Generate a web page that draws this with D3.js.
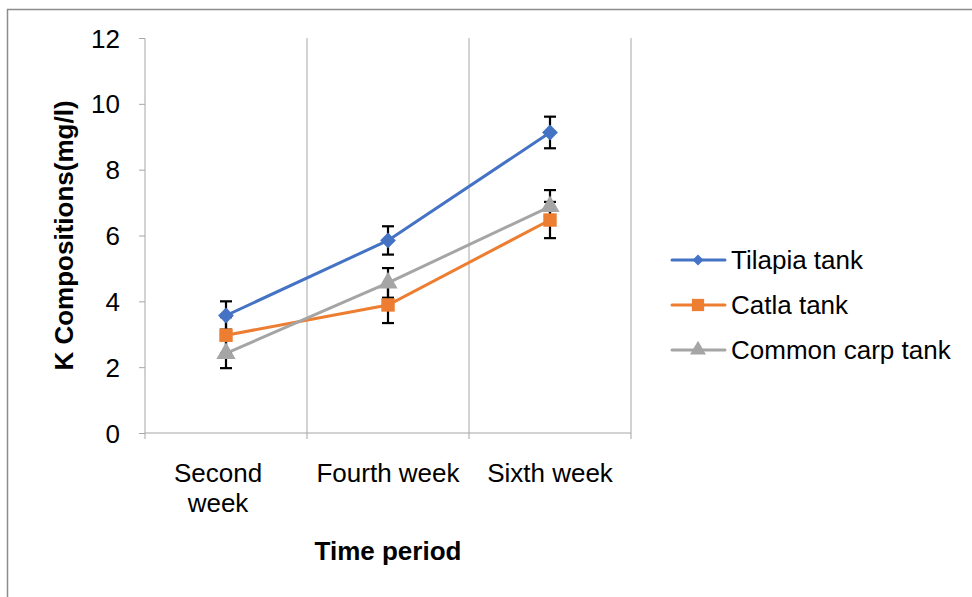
<!DOCTYPE html>
<html><head><meta charset="utf-8">
<script src="https://cdn.jsdelivr.net/npm/d3@7"></script>
<style>body{margin:0;background:#fff}svg{display:block}text{font-family:"Liberation Sans",Arial,sans-serif}</style>
</head><body>
<svg id="c" width="972" height="597"></svg>
<script>
const categories = [["Second","week"],["Fourth week"],["Sixth week"]];
const seriesNames = ["Tilapia tank","Catla tank","Common carp tank"];
const tilapia = [3.57, 5.85, 9.13];
const catla = [2.97, 3.89, 6.47];
const carp = [2.42, 4.56, 6.88];
const tilapiaErr = [0.43, 0.43, 0.48];
const catlaErr = [0.55, 0.55, 0.55];
const carpErr = [0.45, 0.45, 0.5];
const yTicks = [0,2,4,6,8,10,12];
const colors = ["#4472C4","#ED7D31","#A5A5A5"];
const shapes = [d3.symbolSquare, d3.symbolSquare, d3.symbolTriangle];
const rotations = [45, 0, 0];
const FS = 26;

const svg = d3.select("#c");
svg.append("rect").attr("x",7.5).attr("y",9.5).attr("width",980).attr("height",600)
  .attr("fill","none").attr("stroke","#8c8c8c").attr("stroke-width",1.5);

const L=145, R=631, T=38, B=433;
const x = d3.scaleBand().domain([0,1,2]).range([L,R]);
const y = d3.scaleLinear().domain([0,12]).range([B,T]);

// vertical gridlines
svg.append("g").selectAll("line").data([1,2,3]).join("line")
  .attr("x1",d=>L+d*x.bandwidth()).attr("x2",d=>L+d*x.bandwidth())
  .attr("y1",T).attr("y2",B).attr("stroke","#a6a6a6").attr("stroke-width",1);

// y axis
const ya = svg.append("g").attr("transform",`translate(${L},0)`)
  .call(d3.axisLeft(y).tickValues(yTicks).tickSize(6).tickPadding(19));
ya.select(".domain").attr("stroke","#a6a6a6").attr("d",`M-6,${T+0.5}H0V${B}`);
ya.selectAll(".tick line").attr("stroke","#a6a6a6");
ya.selectAll(".tick text").attr("font-size",FS).attr("fill","#000")
  .attr("font-family","Liberation Sans, Arial, sans-serif").attr("dy","0.35em");

// x axis
const xa = svg.append("g").attr("transform",`translate(0,${B})`);
xa.append("line").attr("x1",L).attr("x2",R).attr("y1",0).attr("y2",0).attr("stroke","#a6a6a6");
xa.selectAll("line.t").data([0,1,2,3]).join("line").attr("class","t")
  .attr("x1",d=>L+d*x.bandwidth()).attr("x2",d=>L+d*x.bandwidth())
  .attr("y1",0).attr("y2",6).attr("stroke","#a6a6a6");
xa.selectAll("text").data(categories).join("text")
  .attr("x",(d,i)=>x(i)+x.bandwidth()/2 - (d.length>1?8:0))
  .attr("y",49).attr("text-anchor","middle").attr("font-size",FS).attr("fill","#000")
  .each(function(d){
    const t=d3.select(this);
    d.forEach((s,j)=>t.append("tspan").attr("x",t.attr("x")).attr("dy",j?30:0).text(s));
  });

// titles
svg.append("text").attr("x",388).attr("y",560).attr("text-anchor","middle")
  .attr("font-size",FS).attr("font-weight","bold").text("Time period");
svg.append("text").attr("transform",`translate(73,${(T+B)/2}) rotate(-90)`)
  .attr("text-anchor","middle").attr("font-size",FS).attr("font-weight","bold")
  .text("K Compositions(mg/l)");

const data = [tilapia,catla,carp];
const errs = [tilapiaErr,catlaErr,carpErr];
const cx = i=>x(i)+x.bandwidth()/2;
const line = d3.line().x((d,i)=>cx(i)).y(d=>y(d));

// lines
data.forEach((s,k)=>{
  svg.append("path").attr("d",line(s)).attr("fill","none")
    .attr("stroke",colors[k]).attr("stroke-width",3).attr("stroke-linecap","round");
});
// error bars
data.forEach((s,k)=>{
  const g=svg.append("g").attr("stroke","#000").attr("stroke-width",2.2);
  s.forEach((v,i)=>{
    const e=errs[k][i], X=cx(i);
    g.append("line").attr("x1",X).attr("x2",X).attr("y1",y(v+e)).attr("y2",y(v-e));
    g.append("line").attr("x1",X-6).attr("x2",X+6).attr("y1",y(v+e)).attr("y2",y(v+e));
    g.append("line").attr("x1",X-6).attr("x2",X+6).attr("y1",y(v-e)).attr("y2",y(v-e));
  });
});
// markers
const sizes=[125,180,160];
data.forEach((s,k)=>{
  svg.append("g").selectAll("path").data(s).join("path")
    .attr("transform",(d,i)=>`translate(${cx(i)},${y(d)}) rotate(${rotations[k]})`)
    .attr("d",d3.symbol().type(shapes[k]).size(sizes[k])).attr("fill",colors[k]);
});

// legend
const lg = svg.append("g");
const ly=[260,305,350];
const lsizes=[60,150,110];
seriesNames.forEach((n,k)=>{
  lg.append("line").attr("x1",672).attr("x2",725).attr("y1",ly[k]).attr("y2",ly[k])
    .attr("stroke",colors[k]).attr("stroke-width",3).attr("stroke-linecap","round");
  lg.append("path").attr("transform",`translate(698,${ly[k]}) rotate(${rotations[k]})`)
    .attr("d",d3.symbol().type(shapes[k]).size(lsizes[k])).attr("fill",colors[k]);
  lg.append("text").attr("x",731).attr("y",ly[k]+9).attr("font-size",FS).text(n);
});
</script>
</body></html>
